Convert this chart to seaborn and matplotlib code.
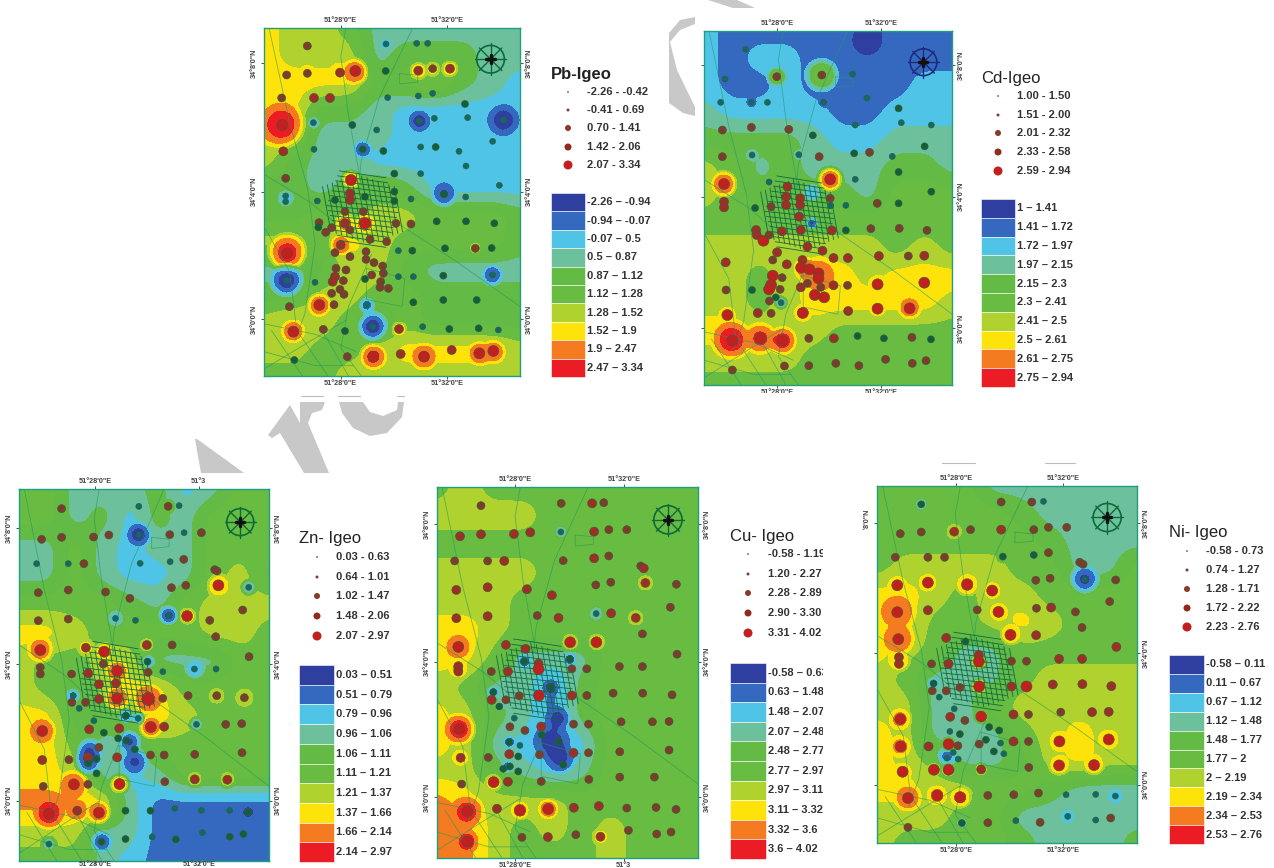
import numpy as np
import pandas as pd
import seaborn as sns
import matplotlib.pyplot as plt
from matplotlib.patches import Polygon, Rectangle

class_colors = ['#2f3f9f', '#3569bf', '#4fc4e6', '#6cc09c', '#63ba45',
                '#69bc42', '#afd22f', '#fde30a', '#f47b20', '#ec1c24']

# field classes, 10 columns, 14 rows, top to bottom
pb_grid = ['7665333333', '7666344433', '7777456432', '7744322222', '7633322222',
           '6433222222', '4434542222', '4455665554', '6657655554', '3346643333',
           '4466554444', '6765354444', '6655677776', '5556666666']
cd_grid = ['2111110111', '2122111111', '2112111122', '3222211222', '4444322333',
           '6534333443', '6544443555', '5555555555', '6666666565', '6656776777',
           '6656777776', '7766655555', '6666555555', '5555555555']
zn_grid = ['5533342355', '5534243555', '3353233555', '3353223564', '5555435666',
           '7765555665', '6556633355', '6546775555', '7744576555', '7753355555',
           '7763235555', '8887311111', '6663311111', '5553211111']
cu_grid = ['5655555555', '6666555555', '5555555555', '6666555555', '6665555555',
           '7765555555', '7753335555', '6533145555', '7643145555', '7632125555',
           '6643235555', '8766655555', '8865656555', '8865556555']
ni_grid = ['5555333333', '5555543333', '5555554333', '5666655335', '7765665555',
           '7755676555', '7653355555', '6533356666', '6633566666', '7633356766',
           '7653346766', '7766554333', '6665533333', '6555543334']

# blobs around single samples: x, y, peak class, radius
pb_blobs = [(95, 345, 9.6, 68), (112, 730, 9.6, 58), (110, 812, 0.4, 52), (338, 418, 1, 30),
            (508, 333, 0.6, 36), (760, 330, 0.5, 52), (582, 553, 0.8, 40), (727, 795, 0.8, 34),
            (368, 950, 0.4, 48), (350, 885, 1.2, 28), (370, 1040, 9.4, 38), (522, 1040, 9.2, 38),
            (690, 1030, 9.1, 34), (730, 1025, 9, 34), (208, 885, 9.1, 34), (130, 965, 9.1, 32),
            (272, 705, 9, 30), (303, 510, 9, 28), (285, 640, 8.6, 30), (345, 640, 9, 28),
            (316, 185, 9.1, 38), (270, 188, 8, 28), (110, 195, 7.9, 22), (172, 190, 7.9, 22),
            (505, 182, 8, 26), (548, 176, 7.6, 22), (600, 176, 8, 26), (408, 102, 2, 20),
            (190, 338, 2, 20), (447, 957, 7.9, 22), (676, 715, 7.5, 16), (107, 565, 2, 26)]
cd_blobs = [(125, 990, 9.6, 58), (211, 985, 9.3, 48), (277, 992, 9.5, 42), (385, 795, 8.9, 52),
            (345, 775, 8.8, 32), (102, 522, 9.3, 38), (420, 508, 9.5, 38), (658, 895, 8.9, 32),
            (562, 823, 8, 26), (702, 818, 8, 26), (562, 896, 8, 22), (338, 909, 8.5, 24),
            (402, 862, 8, 24), (375, 855, 8, 24), (112, 915, 8, 24), (530, 264, 2.6, 32),
            (395, 195, 5.6, 48), (260, 200, 5.6, 28), (186, 435, 2.5, 20), (326, 434, 2.5, 16),
            (273, 878, 2.4, 22), (365, 550, 2, 28), (365, 640, 0.8, 22), (184, 277, 0.5, 16),
            (400, 277, 0.5, 16), (530, 95, 0.5, 50)]
zn_blobs = [(417, 209, 0.5, 40), (507, 452, 0.5, 32), (347, 460, 2.5, 30), (747, 367, 2.5, 26),
            (656, 361, 8, 34), (121, 555, 8.9, 38), (313, 560, 8, 26), (352, 618, 9, 32),
            (352, 700, 9, 36), (445, 702, 9.3, 42), (453, 786, 9, 34), (127, 798, 9, 38),
            (222, 958, 8.9, 42), (147, 1046, 9.6, 44), (232, 1037, 9, 30), (297, 1043, 9, 34),
            (359, 957, 8.5, 30), (445, 590, 1.4, 22), (219, 692, 1.4, 24), (585, 612, 2, 32),
            (268, 860, 0.8, 42), (265, 890, 0.8, 42), (390, 830, 0.8, 36), (405, 890, 0.8, 42),
            (415, 760, 1.4, 22), (378, 752, 0.8, 24), (305, 1130, 0.9, 34), (590, 778, 2.5, 24),
            (745, 1041, 0.4, 20), (562, 453, 8, 24), (585, 943, 7, 24), (683, 944, 7, 24),
            (734, 698, 7, 28), (651, 692, 7, 24), (441, 540, 7.5, 20), (258, 548, 7.5, 24),
            (147, 1137, 3, 26), (505, 124, 5.6, 20)]
cu_blobs = [(115, 546, 8.9, 38), (118, 793, 9.6, 46), (142, 1040, 9.4, 46), (142, 1131, 9.4, 32),
            (385, 1033, 9, 30), (300, 1037, 8.9, 26), (221, 952, 8, 25), (451, 532, 8, 25),
            (530, 532, 8, 25), (122, 879, 8, 24), (115, 612, 8.3, 26), (677, 354, 7.5, 22),
            (648, 459, 7.5, 22), (542, 1116, 7.5, 24), (423, 201, 3, 24), (529, 446, 2.8, 27),
            (395, 830, 0.7, 58), (420, 880, 0.7, 48), (415, 760, 0.7, 38), (392, 668, 0.5, 26),
            (450, 583, 1, 22), (268, 832, 1, 20), (262, 905, 1, 20), (220, 682, 1, 20),
            (238, 725, 1, 14), (313, 590, 1.3, 26)]
ni_blobs = [(142, 470, 8.9, 52), (145, 553, 9, 48), (147, 617, 8, 32), (151, 793, 8.5, 32),
            (152, 875, 8.5, 32), (174, 1030, 9, 38), (262, 1022, 8.5, 30), (331, 1028, 8.5, 30),
            (158, 951, 8, 26), (234, 383, 8, 26), (352, 389, 8.5, 32), (427, 407, 8, 26),
            (446, 471, 8, 27), (482, 540, 8.2, 30), (313, 230, 7.5, 22), (705, 374, 0.7, 46),
            (214, 148, 2.5, 22), (797, 1024, 2, 26), (654, 1085, 2, 24), (459, 305, 3, 20),
            (552, 300, 3, 18), (629, 860, 8, 30), (628, 932, 8, 30), (733, 931, 8, 30),
            (777, 854, 8, 30), (251, 686, 1.4, 20), (291, 905, 1.4, 32), (296, 868, 8, 20),
            (336, 1105, 3, 22), (387, 620, 8.5, 24), (388, 695, 8.3, 24), (394, 785, 8, 20),
            (296, 945, 8, 18), (252, 945, 8, 18), (394, 944, 8, 18), (142, 391, 8, 27)]

# sample sites: x, y, legend class
pb_sites = [(172,108,2),(408,102,0),(500,100,0),(533,100,0),(110,195,2),(172,190,2),(270,188,3),(316,183,4),
            (407,183,1),(505,182,3),(548,176,2),(600,176,3),(95,264,2),(192,264,3),(240,264,3),(413,263,0),
            (505,258,0),(548,250,0),(645,282,1),(97,345,4),(190,338,0),(307,345,1),(380,360,0),(508,333,0),
            (553,325,0),(653,323,0),(760,330,0),(100,424,3),(192,418,0),(338,418,1),(400,423,1),(512,411,0),
            (557,411,1),(627,424,0),(728,394,0),(107,505,2),(303,510,4),(433,491,1),(512,491,0),(648,468,0),
            (748,526,0),(107,558,0),(107,575,0),(202,573,0),(255,570,1),(300,550,3),(300,570,3),(345,560,1),
            (433,545,1),(433,573,1),(483,567,0),(582,553,1),(647,561,0),(207,638,2),(205,652,1),(227,667,2),
            (245,653,2),(285,605,2),(285,640,3),(345,640,4),(340,605,2),(300,660,2),(360,688,2),(410,695,2),
            (438,640,2),(483,642,2),(560,634,1),(648,634,1),(733,640,1),(272,705,3),(255,728,2),(300,740,2),
            (348,725,2),(348,748,2),(372,758,2),(398,768,2),(445,722,0),(487,722,1),(585,715,1),(676,715,2),
            (725,714,1),(112,730,4),(258,775,2),(288,780,2),(255,800,3),(248,815,3),(280,812,2),(365,795,2),
            (400,790,2),(345,807,1),(392,815,2),(195,817,0),(445,800,0),(490,800,0),(580,797,1),(728,795,0),
            (110,812,0),(270,838,2),(245,850,2),(282,853,2),(390,832,2),(415,835,2),(490,877,1),(580,870,1),
            (680,870,1),(118,890,2),(208,885,4),(252,884,2),(350,885,0),(130,965,4),(220,958,2),(285,963,1),
            (368,950,0),(447,957,3),(518,950,0),(598,957,1),(686,955,1),(745,960,0),(133,1050,1),(292,1040,2),
            (370,1040,4),(452,1032,3),(522,1040,4),(605,1020,3),(688,1030,4),(730,1023,4)]
cd_sites = [(167,118,0),(105,207,0),(260,200,2),(395,195,2),(487,192,0),(92,277,0),(184,277,0),(232,277,0),
            (400,277,0),(530,264,0),(625,295,1),(97,360,2),(184,352,2),(296,358,2),(368,376,1),(633,338,0),
            (723,345,0),(495,345,0),(97,440,2),(186,435,0),(326,434,0),(387,440,2),(492,430,1),(538,427,2),
            (606,439,0),(703,409,1),(102,522,4),(237,516,0),(292,530,3),(420,508,4),(495,508,0),(625,486,1),
            (102,575,3),(102,592,3),(195,594,1),(243,590,2),(288,560,3),(288,585,3),(330,565,3),(330,585,3),
            (420,565,2),(422,587,0),(467,586,0),(561,580,2),(625,580,1),(723,545,1),(327,620,3),(198,660,3),
            (200,675,3),(220,692,4),(237,675,2),(276,664,3),(332,660,3),(425,661,3),(467,661,1),(542,656,2),
            (627,655,2),(710,661,2),(261,727,3),(352,710,3),(397,722,3),(248,750,2),(290,763,3),(337,750,3),
            (430,744,3),(473,744,3),(566,738,3),(654,738,2),(702,737,3),(107,757,3),(333,773,4),(358,778,4),
            (385,790,4),(385,805,4),(248,797,4),(276,803,2),(108,840,2),(186,840,1),(243,825,4),(237,838,4),
            (270,838,2),(332,832,3),(352,820,2),(392,832,2),(430,826,3),(472,826,2),(562,823,4),(702,818,4),
            (257,862,1),(238,873,2),(273,878,0),(374,855,4),(402,862,4),(112,915,4),(203,909,3),(243,910,2),
            (338,909,4),(474,903,3),(562,896,4),(658,895,4),(127,992,4),(211,985,4),(277,992,4),(356,985,2),
            (431,985,3),(502,978,1),(581,985,1),(665,982,2),(722,988,1),(127,1080,2),(283,1068,2),(356,1067,2),
            (437,1060,2),(506,1067,2),(586,1048,2),(666,1060,2),(707,1052,2)]
zn_sites = [(185,131,2),(417,124,0),(505,124,2),(538,122,0),(125,223,2),(185,217,2),(281,216,2),(327,210,2),
            (417,209,0),(510,209,2),(553,203,0),(605,203,2),(110,296,0),(205,296,0),(252,296,2),(421,295,0),
            (511,290,0),(552,283,2),(645,314,2),(652,318,2),(115,383,2),(205,375,2),(317,381,2),(390,400,2),
            (515,368,2),(558,361,2),(656,361,4),(747,367,0),(115,467,2),(205,462,2),(347,460,0),(407,466,0),
            (507,452,0),(562,453,4),(630,466,2),(729,435,2),(648,515,2),(121,555,4),(258,548,3),(313,560,4),
            (441,540,3),(517,540,2),(748,575,2),(121,607,2),(121,627,2),(215,627,2),(265,625,3),(352,618,4),
            (310,597,2),(443,590,1),(445,622,2),(489,620,0),(584,612,0),(649,612,0),(297,658,3),(348,655,3),
            (220,692,0),(216,712,2),(257,712,2),(238,730,0),(297,702,3),(352,700,4),(445,702,4),(489,700,2),
            (565,692,2),(651,692,2),(734,698,2),(378,752,1),(282,767,0),(415,760,0),(590,778,0),(678,778,2),
            (726,776,2),(127,798,4),(268,793,3),(358,790,3),(453,786,4),(493,785,3),(312,803,1),(355,820,1),
            (380,827,1),(405,853,1),(297,847,2),(727,863,2),(585,868,2),(493,870,2),(452,870,2),(127,885,3),
            (207,884,2),(264,877,3),(290,882,1),(352,877,3),(265,895,1),(290,925,1),(495,950,2),(585,943,3),
            (683,944,3),(222,958,4),(264,958,2),(359,957,4),(130,964,2),(147,1046,4),(232,1037,3),(297,1043,4),
            (377,1037,1),(452,1037,1),(525,1030,0),(605,1036,0),(690,1036,0),(745,1041,1),(147,1137,0),(305,1130,1),
            (377,1122,1),(457,1116,0),(528,1123,1),(608,1103,0),(690,1115,1),(731,1107,1)]
cu_sites = [(183,122,2),(424,115,2),(517,115,3),(552,113,2),(120,214,3),(183,208,3),(282,207,3),(331,202,3),
            (423,201,0),(523,200,3),(567,194,2),(621,194,2),(104,288,2),(203,288,2),(253,288,3),(430,287,2),
            (523,280,3),(567,273,2),(663,303,2),(672,310,3),(109,375,3),(203,367,3),(321,373,3),(396,391,3),
            (528,360,2),(573,352,2),(677,354,3),(770,358,2),(109,460,3),(203,454,3),(352,452,2),(416,459,3),
            (529,446,0),(574,445,3),(648,459,3),(752,427,2),(668,507,2),(115,546,4),(258,540,3),(317,552,3),
            (451,532,4),(530,532,4),(772,568,2),(115,604,3),(115,620,3),(214,620,2),(264,620,3),(356,596,3),
            (356,613,4),(313,590,1),(450,583,1),(456,612,2),(501,612,2),(599,605,2),(668,605,2),(392,668,1),
            (220,682,1),(215,705,3),(258,705,2),(238,725,1),(298,693,2),(357,692,4),(456,692,3),(501,692,2),
            (580,685,2),(669,685,2),(757,690,2),(283,760,0),(270,786,2),(315,797,2),(364,785,3),(461,778,2),
            (506,778,2),(604,771,2),(698,771,2),(748,770,2),(118,793,4),(365,810,1),(417,830,1),(268,832,1),
            (300,842,0),(268,868,3),(295,875,1),(359,870,2),(461,864,3),(506,864,2),(600,861,2),(748,856,2),
            (122,879,3),(205,878,2),(250,912,1),(270,905,1),(295,920,1),(430,900,1),(125,958,2),(221,952,4),
            (264,951,3),(364,950,2),(507,944,2),(600,937,2),(704,937,2),(142,1040,4),(231,1032,3),(300,1037,4),
            (385,1033,4),(462,1029,3),(537,1024,3),(621,1030,2),(709,1028,2),(769,1034,2),(142,1131,4),(306,1118,2),
            (384,1117,3),(468,1110,2),(542,1116,3),(626,1097,2),(711,1108,2),(754,1102,2)]
ni_sites = [(214,148,1),(454,141,2),(546,141,2),(581,139,0),(151,236,2),(214,231,2),(313,230,3),(362,224,2),
            (454,224,3),(552,224,2),(596,217,2),(651,217,2),(136,307,2),(234,307,2),(284,307,2),(459,305,1),
            (552,300,1),(596,293,2),(690,322,2),(700,328,2),(142,391,4),(234,383,4),(352,389,4),(427,407,4),
            (558,376,2),(601,370,2),(705,374,0),(798,375,2),(142,472,4),(234,466,3),(382,465,2),(446,471,4),
            (560,460,2),(604,458,3),(677,471,2),(780,440,2),(697,518,2),(145,553,4),(289,549,3),(347,560,1),
            (482,540,4),(559,541,3),(800,576,3),(147,607,3),(147,627,3),(245,627,2),(296,627,3),(387,600,3),
            (387,620,4),(485,619,2),(530,619,2),(628,612,3),(697,612,3),(251,686,1),(247,708,2),(289,708,2),
            (268,727,0),(330,698,2),(388,695,4),(485,695,3),(530,695,4),(609,689,3),(698,688,3),(785,694,3),
            (151,793,4),(313,762,0),(301,786,3),(345,797,2),(394,785,4),(491,779,3),(536,779,2),(633,772,2),
            (727,772,3),(777,771,3),(418,817,1),(448,827,1),(300,830,0),(330,838,1),(408,855,1),(452,865,0),
            (152,875,4),(236,875,3),(296,868,4),(324,873,2),(388,868,2),(491,860,3),(536,860,2),(629,860,4),
            (777,854,4),(291,910,0),(310,893,0),(325,913,0),(432,890,1),(462,897,0),(158,951,4),(252,945,4),
            (296,945,4),(394,944,3),(537,938,2),(628,932,4),(733,931,4),(174,1030,4),(262,1022,4),(331,1028,4),
            (414,1022,2),(492,1020,2),(566,1015,2),(649,1020,0),(738,1019,0),(797,1024,0),(174,1118,2),(336,1105,1),
            (414,1104,2),(498,1098,0),(571,1103,2),(654,1085,0),(738,1096,0),(783,1090,2)]

pb_dots = ['-2.26 - -0.42', '-0.41 - 0.69', '0.70 - 1.41', '1.42 - 2.06', '2.07 - 3.34']
pb_bands = ['-2.26 – -0.94', '-0.94 – -0.07', '-0.07 – 0.5', '0.5 – 0.87', '0.87 – 1.12',
            '1.12 – 1.28', '1.28 – 1.52', '1.52 – 1.9', '1.9 – 2.47', '2.47 – 3.34']
cd_dots = ['1.00 - 1.50', '1.51 - 2.00', '2.01 - 2.32', '2.33 - 2.58', '2.59 - 2.94']
cd_bands = ['1 – 1.41', '1.41 – 1.72', '1.72 – 1.97', '1.97 – 2.15', '2.15 – 2.3',
            '2.3 – 2.41', '2.41 – 2.5', '2.5 – 2.61', '2.61 – 2.75', '2.75 – 2.94']
zn_dots = ['0.03 - 0.63', '0.64 - 1.01', '1.02 - 1.47', '1.48 - 2.06', '2.07 - 2.97']
zn_bands = ['0.03 – 0.51', '0.51 – 0.79', '0.79 – 0.96', '0.96 – 1.06', '1.06 – 1.11',
            '1.11 – 1.21', '1.21 – 1.37', '1.37 – 1.66', '1.66 – 2.14', '2.14 – 2.97']
cu_dots = ['-0.58 - 1.19', '1.20 - 2.27', '2.28 - 2.89', '2.90 - 3.30', '3.31 - 4.02']
cu_bands = ['-0.58 – 0.63', '0.63 – 1.48', '1.48 – 2.07', '2.07 – 2.48', '2.48 – 2.77',
            '2.77 – 2.97', '2.97 – 3.11', '3.11 – 3.32', '3.32 – 3.6', '3.6 – 4.02']
ni_dots = ['-0.58 - 0.73', '0.74 - 1.27', '1.28 - 1.71', '1.72 - 2.22', '2.23 - 2.76']
ni_bands = ['-0.58 – 0.11', '0.11 – 0.67', '0.67 – 1.12', '1.12 – 1.48', '1.48 – 1.77',
            '1.77 – 2', '2 – 2.19', '2.19 – 2.34', '2.34 – 2.53', '2.53 – 2.76']

lon_a = '51°28\'0"E'
lon_b = '51°32\'0"E'
lats = ['34°8\'0"N', '34°4\'0"N', '34°0\'0"N']

# roads, in fractions of the map
roads = [[(0.02, 0), (0.1, 0.27), (0.17, 0.46), (0.2, 0.62), (0.16, 0.82), (0.12, 0.9)],
         [(0.32, 0), (0.3, 0.08), (0.33, 0.25), (0.38, 0.45)],
         [(0.58, 0), (0.45, 0.2), (0.38, 0.38), (0.37, 0.45)],
         [(0.42, 0.65), (0.33, 0.8), (0.3, 0.92), (0.38, 1)],
         [(0, 0.42), (0.18, 0.5), (0.28, 0.56)],
         [(0.5, 0.55), (0.75, 0.67), (1, 0.8)],
         [(0, 0.57), (0.1, 0.7), (0.13, 0.88)],
         [(0, 0.85), (0.2, 0.88), (0.36, 0.93)],
         [(0, 0.98), (0.18, 0.9), (0.32, 0.84)],
         [(0.03, 0.87), (0.15, 1)], [(0.12, 0.86), (0.25, 1)], [(0.22, 0.86), (0.33, 1)],
         [(0, 0.93), (0.2, 0.97), (0.35, 0.97)],
         [(0.4, 0.69), (0.55, 0.72), (0.54, 0.8), (0.4, 0.78), (0.4, 0.69)],
         [(0.53, 0.13), (0.6, 0.135), (0.6, 0.155), (0.53, 0.16), (0.53, 0.13)]]


def upsample(grid, xs, ys):
    table = np.array([[int(c) + 0.5 for c in row] for row in grid])
    col_pos = np.linspace(xs[0], xs[-1], table.shape[1])
    row_pos = np.linspace(ys[0], ys[-1], table.shape[0])
    across = np.array([np.interp(xs, col_pos, row) for row in table])
    field = np.array([np.interp(ys, row_pos, col) for col in across.T]).T
    kernel = np.hanning(41)
    kernel = kernel / kernel.sum()
    pad = 20
    for axis in (0, 1):
        padded = np.pad(field, [(pad, pad) if i == axis else (0, 0) for i in (0, 1)], mode='edge')
        field = np.apply_along_axis(lambda v: np.convolve(v, kernel, mode='valid'), axis, padded)
    return field


def add_blobs(field, X, Y, blobs):
    for bx, by, peak, radius in blobs:
        dist = np.hypot(X - bx, Y - by) / (radius * 1.1)
        shape = np.clip(1 - dist ** 2.2, 0, 1)
        bump = field + (peak - field) * shape
        field = np.maximum(field, bump) if peak > 5 else np.minimum(field, bump)
    return field


def draw_dots(ax, x, y, cls, sizes, colors, edge=None):
    df = pd.DataFrame({'x': x, 'y': y, 'cls': cls})
    sns.scatterplot(data=df, x='x', y='y', hue='cls', size='cls', ax=ax, legend=False,
                    palette=dict(enumerate(colors)),
                    sizes={i: (d * 0.72) ** 2 for i, d in enumerate(sizes)},
                    linewidth=0.4 if edge else 0, edgecolor=edge, zorder=4, clip_on=False)


def draw_map(box, limits, grid, blobs, sites, xticks, yticks, top, bottom, left=True,
             rose_color='#0d6b3a', road_color='#1d9a55', bottom_pad=3):
    ax = fig.add_axes([box[0] / 1274, 1 - box[3] / 868, (box[2] - box[0]) / 1274,
                       (box[3] - box[1]) / 868], zorder=2)
    x0, x1, y0, y1 = limits
    xs = np.linspace(x0, x1, 320)
    ys = np.linspace(y0, y1, 440)
    X, Y = np.meshgrid(xs, ys)
    field = add_blobs(upsample(grid, xs, ys), X, Y, blobs)
    ax.contourf(X, Y, field, levels=np.arange(0, 11), colors=class_colors, extend='both')

    w, h = x1 - x0, y1 - y0
    for road in roads:
        ax.plot([x0 + p[0] * w for p in road], [y0 + p[1] * h for p in road],
                color=road_color, lw=0.6, alpha=0.6, zorder=2)
    # street mesh of the town in the middle of the map
    cx, cy = x0 + 0.385 * w, y0 + 0.52 * h
    for t in np.linspace(-1, 1, 15):
        half = 1 - 0.35 * abs(t)
        ax.plot([cx + (t - half * 0.18) * 0.14 * w, cx + (t + half * 0.18) * 0.14 * w],
                [cy - half * 0.1 * h, cy + half * 0.1 * h], color='#0f6a42', lw=0.6, zorder=3)
        ax.plot([cx - half * 0.14 * w, cx + half * 0.14 * w],
                [cy + (t - 0.1) * 0.1 * h, cy + (t + 0.1) * 0.1 * h], color='#0f6a42', lw=0.6, zorder=3)

    sx, sy, sc = zip(*sites)
    draw_dots(ax, sx, sy, sc, [6, 7, 8, 9, 11],
              ['#0f6b66', '#115f3c', '#7c3d2e', '#9c2f28', '#c0201f'], edge='#3c5a30')

    # north arrow
    rx, ry, r = x0 + 0.885 * w, y0 + 0.089 * h, 0.054 * w
    ang = np.linspace(0, 2 * np.pi, 60)
    ax.plot(rx + r * np.cos(ang), ry + r * np.sin(ang), color=rose_color, lw=1.2, zorder=5)
    for a in np.arange(0, np.pi, np.pi / 4):
        ax.plot([rx - 1.15 * r * np.cos(a), rx + 1.15 * r * np.cos(a)],
                [ry - 1.15 * r * np.sin(a), ry + 1.15 * r * np.sin(a)], color=rose_color, lw=1, zorder=5)
    ax.plot([rx, rx], [ry - 0.3 * r, ry + 0.3 * r], color='#111111', lw=2.5, zorder=5)
    ax.plot([rx - 0.3 * r, rx + 0.3 * r], [ry, ry], color='#111111', lw=2.5, zorder=5)

    ax.set_xlim(x0, x1)
    ax.set_ylim(y1, y0)
    ax.set_xlabel('')
    ax.set_ylabel('')
    ax.set_xticks(xticks)
    ax.set_yticks(yticks)
    ax.set_xticklabels([])
    ax.set_yticklabels([])
    ax.tick_params(length=2, width=0.6, color='#333333', top=True, bottom=True, left=True, right=True)
    for spine in ax.spines.values():
        spine.set_color('#1f9f80')
        spine.set_linewidth(1)
    lab = dict(fontsize=5.2, color='#444444', fontweight='bold', annotation_clip=False)
    for tx, name in zip(xticks, top):
        ax.annotate(name, (tx, 1), xycoords=('data', 'axes fraction'), xytext=(0, 3),
                    textcoords='offset points', ha='center', va='bottom', **lab)
    for tx, name in zip(xticks, bottom):
        ax.annotate(name, (tx, 0), xycoords=('data', 'axes fraction'), xytext=(0, -bottom_pad),
                    textcoords='offset points', ha='center', va='top', **lab)
    for ty, name in zip(yticks, lats):
        if left:
            ax.annotate(name, (0, ty), xycoords=('axes fraction', 'data'), xytext=(-7, 0),
                        textcoords='offset points', ha='center', va='center', rotation=90, **lab)
        ax.annotate(name, (1, ty), xycoords=('axes fraction', 'data'), xytext=(7, 0),
                    textcoords='offset points', ha='center', va='center', rotation=90, **lab)
    return ax


def draw_legend(ax, title, title_xy, dot_x, dot_ys, text_x, dots, swatch, bands, title_weight='normal'):
    ax.text(title_xy[0], title_xy[1], title, fontsize=12, fontweight=title_weight, color='#222222',
            ha='left', va='center')
    draw_dots(ax, [dot_x] * 5, dot_ys, list(range(5)), [2, 3, 6, 7, 9],
              ['#5f8a7c', '#7a3a50', '#8a3a28', '#8e2a20', '#c0201f'])
    for y, label in zip(dot_ys, dots):
        ax.text(text_x, y, label, fontsize=8, fontweight='bold', color='#333333', ha='left', va='center')
    x0, x1, y0, y1 = swatch
    step = (y1 - y0) / 10
    for i, label in enumerate(bands):
        ax.add_patch(Rectangle((x0, y0 + i * step), x1 - x0, step, facecolor=class_colors[i],
                               edgecolor='white', lw=0.4))
        ax.text(x1 + 2, y0 + (i + 0.5) * step, label, fontsize=8, fontweight='bold', color='#333333',
                ha='left', va='center')


sns.set_theme(style='white')
plt.rcParams['font.family'] = ['Liberation Sans', 'DejaVu Sans']
fig = plt.figure(figsize=(12.74, 8.68), dpi=100)

page = fig.add_axes([0, 0, 1, 1], zorder=1)
page.set_xlim(0, 1274)
page.set_ylim(868, 0)
page.axis('off')

# pieces of the grey watermark
watermark = [[(195, 439), (197, 439), (244, 473), (201, 473)],
             [(268, 435), (290, 405), (300, 423), (300, 402), (325, 402), (322, 410), (312, 413), (308, 423),
              (329, 473), (304, 473), (280, 433), (272, 438)],
             [(339, 402), (363, 402), (370, 412), (383, 416), (397, 410), (398, 402), (404, 402), (402, 417),
              (387, 433), (370, 436), (353, 428), (342, 413)],
             [(695, 17), (680, 20), (669, 33), (669, 103), (683, 113), (695, 116), (695, 107), (677, 70),
              (670, 42), (680, 30), (695, 24)],
             [(708, 0), (737, 0), (755, 8), (733, 8)]]
for piece in watermark:
    page.add_patch(Polygon(piece, closed=True, facecolor='#c8c8c8', edgecolor='none'))
for a, b, y in [(301, 323, 396), (338, 360, 396), (397, 404, 396), (942, 975, 463), (1045, 1075, 463)]:
    page.plot([a, b], [y, y], color='#bbbbbb', lw=0.8)

draw_map((264, 28.3, 520, 376), (42, 810, 55, 1098), pb_grid, pb_blobs, pb_sites, [272, 592], [160, 545, 928],
         [lon_a, lon_b], [lon_a, lon_b])
draw_map((704, 30.7, 952, 385), (42, 785, 62, 1125), cd_grid, cd_blobs, cd_sites, [262, 573], [165, 560, 955],
         [lon_a, lon_b], [lon_a, lon_b], left=False, rose_color='#1c2a80', road_color='#1d9a75')
draw_map((19.3, 489, 269, 860.7), (58, 808, 72, 1187), zn_grid, zn_blobs, zn_sites, [285, 597], [190, 597, 1007],
         [lon_a, '51°3'], [lon_a, lon_b], bottom_pad=0.5)
draw_map((436.7, 486.7, 698, 858), (50, 835, 65, 1180), cu_grid, cu_blobs, cu_sites, [285, 612], [178, 590, 997],
         [lon_a, lon_b], [lon_a, '51°3'])
draw_map((877.3, 485.7, 1137, 843), (82, 862, 92, 1165), ni_grid, ni_blobs, ni_sites, [318, 640], [205, 595, 990],
         [lon_a, lon_b], [lon_a, lon_b])

draw_legend(page, 'Pb-Igeo', (551, 74), 568, [92, 110, 128, 147, 165], 587, pb_dots, (551, 585, 193, 377),
            pb_bands, title_weight='bold')
draw_legend(page, 'Cd-Igeo', (981, 78), 998, [96, 115, 133, 152, 171], 1017, cd_dots, (981, 1015, 199, 387), cd_bands)
draw_legend(page, 'Zn- Igeo', (299, 538), 317, [557, 577, 596, 616, 636], 336, zn_dots, (299, 334, 665, 862), zn_bands)
draw_legend(page, 'Cu- Igeo', (730, 536), 748, [554, 574, 593, 613, 633], 768, cu_dots, (730, 766, 663, 859), cu_bands)
draw_legend(page, 'Ni- Igeo', (1169, 533), 1187, [551, 570, 589, 608, 627], 1206, ni_dots, (1169, 1204, 655, 844), ni_bands)
page.set_xlim(0, 1274)
page.set_ylim(868, 0)
page.set_xlabel('')
page.set_ylabel('')

# the source picture cuts some labels off
cover = fig.add_axes([0, 0, 1, 1], zorder=5)
cover.set_xlim(0, 1274)
cover.set_ylim(868, 0)
cover.axis('off')
cover.add_patch(Rectangle((823, 530), 45, 335, facecolor='white', edgecolor='none'))
cover.add_patch(Rectangle((700, 393), 280, 12, facecolor='white', edgecolor='none'))

fig.savefig('out.png', dpi=100)
